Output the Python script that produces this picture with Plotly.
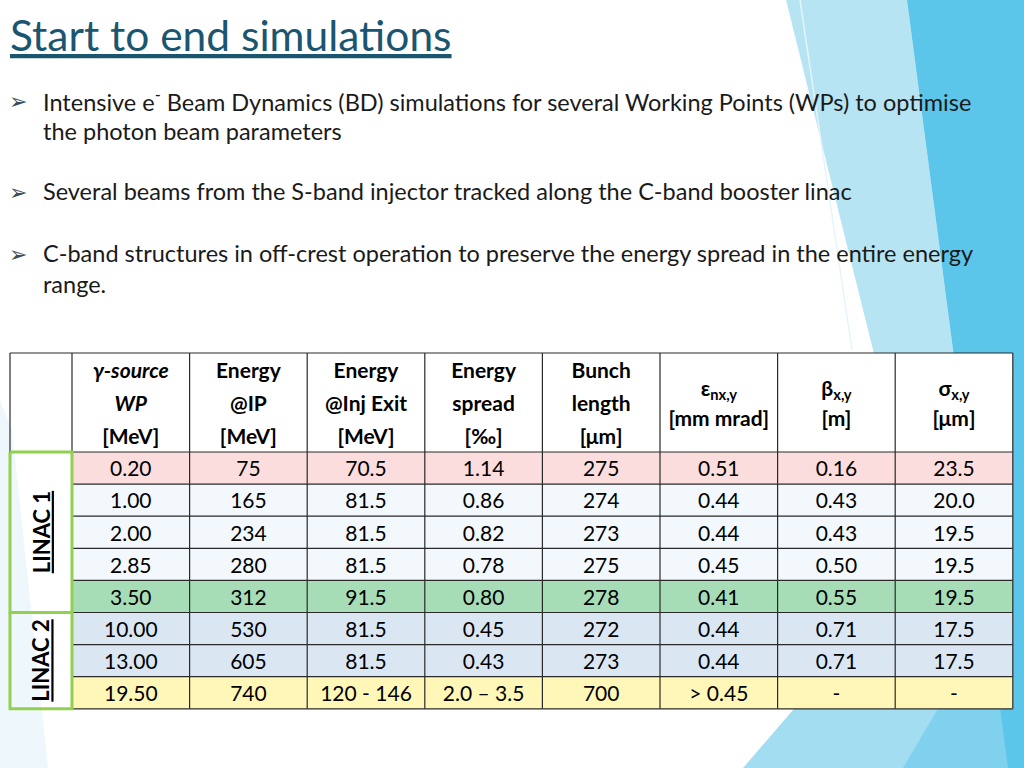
import plotly.graph_objects as go

# ---------------- data ----------------
title = "Start to end simulations"
bullet_lines = [
    ["Intensive e<sup>-</sup> Beam Dynamics (BD) simulations for several Working Points (WPs) to optimise",
     "the photon beam parameters"],
    ["Several beams from the S-band injector tracked along the C-band booster linac"],
    ["C-band structures in off-crest operation to preserve the energy spread in the entire energy",
     "range."],
]

header_lines = [
    ["<b><i>γ-source</i></b>", "<b><i>WP</i></b>", "<b>[MeV]</b>"],
    ["<b>Energy</b>", "<b>@IP</b>", "<b>[MeV]</b>"],
    ["<b>Energy</b>", "<b>@Inj Exit</b>", "<b>[MeV]</b>"],
    ["<b>Energy</b>", "<b>spread</b>", "<b>[‰]</b>"],
    ["<b>Bunch</b>", "<b>length</b>", "<b>[μm]</b>"],
    ["<b>ε<sub>nx,y</sub></b>", "<b>[mm mrad]</b>"],
    ["<b>β<sub>x,y</sub></b>", "<b>[m]</b>"],
    ["<b>σ<sub>x,y</sub></b>", "<b>[μm]</b>"],
]

wp = ["0.20", "1.00", "2.00", "2.85", "3.50", "10.00", "13.00", "19.50"]
energy_ip = ["75", "165", "234", "280", "312", "530", "605", "740"]
energy_inj = ["70.5", "81.5", "81.5", "81.5", "91.5", "81.5", "81.5", "120 - 146"]
energy_spread = ["1.14", "0.86", "0.82", "0.78", "0.80", "0.45", "0.43", "2.0 – 3.5"]
bunch_length = ["275", "274", "273", "275", "278", "272", "273", "700"]
emittance = ["0.51", "0.44", "0.44", "0.45", "0.41", "0.44", "0.44", "> 0.45"]
beta = ["0.16", "0.43", "0.43", "0.50", "0.55", "0.71", "0.71", "-"]
sigma = ["23.5", "20.0", "19.5", "19.5", "19.5", "17.5", "17.5", "-"]
columns = [wp, energy_ip, energy_inj, energy_spread, bunch_length, emittance, beta, sigma]

row_fill = ["#FBDDDD", "#F2F8FB", "#F2F8FB", "#F2F8FB", "#A6DDB7",
            "#DBE6F3", "#DBE6F3", "#FEF7B8"]
header_fill = "#FFFFFF"

linac_groups = ["LINAC 1", "LINAC 2"]
linac_rows = [5, 3]

# ---------------- layout constants ----------------
W, H = 1024, 768
FONT = "Lato"
table_left = 10
label_w = 62
col_w = 117.6
header_top, header_h, row_h = 353, 99, 32.1
text_dy = 3

ncol = len(columns)
nrow = len(wp)
col_edges = [table_left + label_w + i * col_w for i in range(ncol + 1)]
row_edges = [header_top] + [header_top + header_h + i * row_h for i in range(nrow + 1)]
col_centers = [(col_edges[i] + col_edges[i + 1]) / 2 for i in range(ncol)]
row_centers = [(row_edges[i + 1] + row_edges[i + 2]) / 2 for i in range(nrow)]
table_right = col_edges[-1]
table_bottom = row_edges[-1]

fig = go.Figure()

# cell fills via heatmap with brick edges
palette = [header_fill] + list(dict.fromkeys(row_fill))
z = [[0] * ncol] + [[palette.index(c)] * ncol for c in row_fill]
n = len(palette)
colorscale = [[i / (n - 1), c] for i, c in enumerate(palette)]
fig.add_trace(go.Heatmap(
    z=z, x=col_edges, y=row_edges, zmin=0, zmax=n - 1,
    colorscale=colorscale, showscale=False, hoverinfo="skip"))

# grid lines
gx, gy = [], []
for x in [table_left] + col_edges:
    y1 = table_bottom if x >= col_edges[0] else row_edges[1]
    gx += [x, x, None]
    gy += [header_top, y1, None]
for j, y in enumerate(row_edges):
    x0 = table_left if j <= 1 else col_edges[0]
    gx += [x0, table_right, None]
    gy += [y, y, None]
fig.add_trace(go.Scatter(x=gx, y=gy, mode="lines",
                         line=dict(color="#2A2A2A", width=1.2),
                         hoverinfo="skip", showlegend=False))

# green LINAC group boxes
gbx, gby = [], []
start = 0
for cnt in linac_rows:
    y0 = row_edges[1 + start]
    y1 = row_edges[1 + start + cnt]
    gbx += [table_left, col_edges[0], col_edges[0], table_left, table_left, None]
    gby += [y0, y0, y1, y1, y0, None]
    start += cnt
fig.add_trace(go.Scatter(x=gbx, y=gby, mode="lines",
                         line=dict(color="#92D050", width=3),
                         hoverinfo="skip", showlegend=False))

# header text
hx, hy, ht = [], [], []
hc = (row_edges[0] + row_edges[1]) / 2 + text_dy
for i, lines in enumerate(header_lines):
    k = len(lines)
    gap = 33 if k == 3 else 30
    for j, t in enumerate(lines):
        hx.append(col_centers[i])
        hy.append(hc + (j - (k - 1) / 2) * gap)
        ht.append(t)
fig.add_trace(go.Scatter(x=hx, y=hy, text=ht, mode="text",
                         textposition="middle center",
                         textfont=dict(family=FONT, size=21, color="#000000"),
                         hoverinfo="skip", showlegend=False))

# cell text
cx, cy, ct = [], [], []
for i, col in enumerate(columns):
    for j, v in enumerate(col):
        cx.append(col_centers[i])
        cy.append(row_centers[j] + text_dy)
        ct.append(v)
fig.add_trace(go.Scatter(x=cx, y=cy, text=ct, mode="text",
                         textposition="middle center",
                         textfont=dict(family=FONT, size=21, color="#000000"),
                         hoverinfo="skip", showlegend=False))

annotations = []
# LINAC labels
start = 0
for name, cnt in zip(linac_groups, linac_rows):
    yc = (row_edges[1 + start] + row_edges[1 + start + cnt]) / 2
    annotations.append(dict(x=(table_left + col_edges[0]) / 2, y=yc, xref="x", yref="y",
                            text="<b><u>" + name + "</u></b>", textangle=-90, showarrow=False,
                            font=dict(family=FONT, size=22, color="#000000")))
    start += cnt

# title
annotations.append(dict(x=8, y=34, xref="x", yref="y", xanchor="left", yanchor="middle",
                        text="<u>" + title + "</u>", showarrow=False,
                        font=dict(family=FONT, size=42.5, color="#1A5670")))

# bullets
bullet_y = [100, 191, 253]
line_gap = 31
for by, lines in zip(bullet_y, bullet_lines):
    annotations.append(dict(x=18, y=by + 1, xref="x", yref="y", xanchor="center", yanchor="middle",
                            text="➢", showarrow=False,
                            font=dict(family="DejaVu Sans", size=22, color="#3A4E5C")))
    for j, t in enumerate(lines):
        annotations.append(dict(x=41, y=by + j * line_gap, xref="x", yref="y",
                                xanchor="left", yanchor="middle", text=t, showarrow=False,
                                font=dict(family=FONT, size=23.5, color="#1A1A1A")))

# background decoration shapes
def poly(pts):
    return "M " + " L ".join(f"{x},{y}" for x, y in pts) + " Z"

shapes = [
    dict(type="path", path=poly([(0, 400), (12, 430), (48, 768), (0, 768)]),
         fillcolor="#EEF8FC", line=dict(width=0), layer="below", xref="x", yref="y"),
    dict(type="path", path=poly([(786, 0), (907, 0), (1008, 768), (977, 768)]),
         fillcolor="#B7E4F3", line=dict(width=0), layer="below", xref="x", yref="y"),
    dict(type="path", path=poly([(743, 768), (1024, 441), (1024, 768)]),
         fillcolor="#A2DDF1", line=dict(width=0), layer="below", xref="x", yref="y"),
    dict(type="path", path=poly([(903, 768), (1024, 563), (1024, 768)]),
         fillcolor="#7FD1EE", line=dict(width=0), layer="below", xref="x", yref="y"),
    dict(type="path", path=poly([(907, 0), (1024, 0), (1024, 768), (1008, 768)]),
         fillcolor="#5BC5EA", line=dict(width=0), layer="below", xref="x", yref="y"),
    dict(type="line", x0=800, y0=0, x1=852, y1=350, line=dict(color="#E6F5FB", width=1.5),
         layer="below", xref="x", yref="y"),
]

fig.update_layout(
    width=W, height=H,
    margin=dict(l=0, r=0, t=0, b=0),
    paper_bgcolor="#FFFFFF", plot_bgcolor="rgba(0,0,0,0)",
    xaxis=dict(range=[0, W], visible=False, fixedrange=True),
    yaxis=dict(range=[H, 0], visible=False, fixedrange=True),
    showlegend=False,
    annotations=annotations,
    shapes=shapes,
)

fig.write_html("out.html", config={"displayModeBar": False},
               post_script="document.body.style.margin='0';document.body.style.overflow='hidden';")
